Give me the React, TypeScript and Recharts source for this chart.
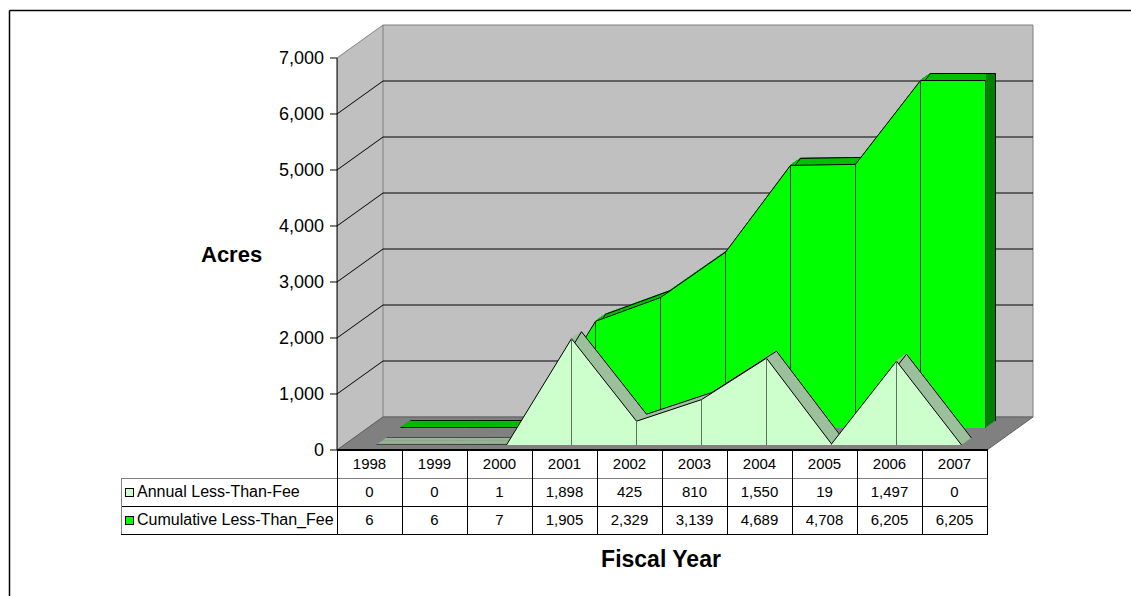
import React from 'react';
import {
  AreaChart,
  Area,
  LineChart,
  XAxis,
  YAxis,
  ReferenceLine,
  ReferenceArea,
} from 'recharts';

// ---------- data ----------
const years = ['1998', '1999', '2000', '2001', '2002', '2003', '2004', '2005', '2006', '2007'];
const annual = [0, 0, 1, 1898, 425, 810, 1550, 19, 1497, 0];
const cumulative = [6, 6, 7, 1905, 2329, 3139, 4689, 4708, 6205, 6205];
const yTicks = [0, 1000, 2000, 3000, 4000, 5000, 6000, 7000];
const seriesNames = ['Annual Less-Than-Fee', 'Cumulative Less-Than_Fee'];
const yTitle = 'Acres';
const xTitle = 'Fiscal Year';

const data = years.map((y, i) => ({ year: y, annual: annual[i], cumulative: cumulative[i] }));

// ---------- layout ----------
const W = 1131;
const H = 596;
const FONT = '"Liberation Sans", Arial, Helvetica, sans-serif';
const FRONT_LEFT = 337;
const FRONT_RIGHT = 987;
const PLOT_TOP = 58;
const PLOT_BOTTOM = 450;
const DEPTH_X = 46;
const DEPTH_Y = -33;
const COL_W = 65;
const ROW_H = 28;
const LABEL_LEFT = 121;
const Y_MAX = 7000;
const FIRST_CENTER = FRONT_LEFT + COL_W / 2;
const LAST_CENTER = FRONT_RIGHT - COL_W / 2;
const EX = 10;
const EY = -7;
const NCOPIES = 10;

const seriesMargin = {
  top: PLOT_TOP,
  bottom: H - PLOT_BOTTOM,
  left: FIRST_CENTER,
  right: W - LAST_CENTER,
};

const fmt = (v: number) => v.toLocaleString('en-US');

function Layer({ dx, dy, children }: { dx: number; dy: number; children: React.ReactNode }) {
  return (
    <div style={{ position: 'absolute', left: 0, top: 0, transform: `translate(${dx}px, ${dy}px)` }}>
      {children}
    </div>
  );
}

type SeriesProps = {
  dataKey: 'annual' | 'cumulative';
  fill: string;
  stroke: string;
  strokeWidth?: number;
  dividers?: 'all' | 'last' | 'none';
  dividerStroke?: string;
};

function SeriesChart({ dataKey, fill, stroke, strokeWidth = 1, dividers = 'none', dividerStroke = '#000' }: SeriesProps) {
  const divData =
    dividers === 'all' ? data : dividers === 'last' ? data.slice(data.length - 1) : [];
  return (
    <AreaChart width={W} height={H} data={data} margin={seriesMargin}>
      <XAxis dataKey="year" hide />
      <YAxis hide domain={[0, Y_MAX]} ticks={yTicks} allowDataOverflow />
      <Area
        dataKey={dataKey}
        type="linear"
        fill={fill}
        fillOpacity={fill === 'none' ? 0 : 1}
        stroke={stroke}
        strokeWidth={strokeWidth}
        dot={false}
        activeDot={false}
        isAnimationActive={false}
      />
      {divData.map((d) => (
        <ReferenceLine
          key={d.year}
          segment={[
            { x: d.year, y: 0 },
            { x: d.year, y: d[dataKey] },
          ]}
          stroke={dividerStroke}
          strokeWidth={1}
        />
      ))}
    </AreaChart>
  );
}

type ExtrudedProps = {
  dataKey: 'annual' | 'cumulative';
  shiftX: number;
  shiftY: number;
  faceFill: string;
  bandFill: string;
  sideFill?: string;
  dividerStroke: string;
};

function Extruded({ dataKey, shiftX, shiftY, faceFill, bandFill, sideFill, dividerStroke }: ExtrudedProps) {
  const out: React.ReactNode[] = [];
  const baseFill = sideFill || bandFill;
  for (let k = NCOPIES; k >= 1; k--) {
    out.push(
      <Layer key={`c${k}`} dx={shiftX + (EX * k) / NCOPIES} dy={shiftY + (EY * k) / NCOPIES}>
        <SeriesChart dataKey={dataKey} fill={baseFill} stroke={baseFill} strokeWidth={1.2} />
      </Layer>
    );
  }
  if (sideFill) {
    const clipW = LAST_CENTER + shiftX + 0.5;
    const inner: React.ReactNode[] = [];
    for (let k = NCOPIES; k >= 1; k--) {
      inner.push(
        <Layer key={`b${k}`} dx={shiftX + (EX * k) / NCOPIES} dy={shiftY + (EY * k) / NCOPIES}>
          <SeriesChart dataKey={dataKey} fill={bandFill} stroke={bandFill} strokeWidth={1.2} />
        </Layer>
      );
    }
    out.push(
      <div key="clip" style={{ position: 'absolute', left: 0, top: 0, width: clipW, height: H, overflow: 'hidden' }}>
        {inner}
      </div>
    );
  }
  out.push(
    <Layer key="outline" dx={shiftX + EX} dy={shiftY + EY}>
      <SeriesChart dataKey={dataKey} fill="none" stroke="#000" dividers="last" dividerStroke="#000" />
    </Layer>
  );
  out.push(
    <Layer key="face" dx={shiftX} dy={shiftY}>
      <SeriesChart dataKey={dataKey} fill={faceFill} stroke="#000" dividers="all" dividerStroke={dividerStroke} />
    </Layer>
  );
  return <>{out}</>;
}

function BackWall() {
  return (
    <Layer dx={0} dy={0}>
      <LineChart
        width={W}
        height={H}
        data={data}
        margin={{
          top: PLOT_TOP + DEPTH_Y,
          bottom: H - (PLOT_BOTTOM + DEPTH_Y),
          left: FRONT_LEFT + DEPTH_X,
          right: W - (FRONT_RIGHT + DEPTH_X),
        }}
      >
        <XAxis dataKey="year" hide />
        <YAxis hide domain={[0, Y_MAX]} ticks={yTicks} allowDataOverflow />
        <ReferenceArea y1={0} y2={Y_MAX} fill="#C0C0C0" fillOpacity={1} stroke="#808080" />
        {yTicks.slice(1, -1).map((t) => (
          <ReferenceLine key={t} y={t} stroke="#000" strokeWidth={1} />
        ))}
      </LineChart>
    </Layer>
  );
}

function SideWall() {
  const angle = (Math.atan(DEPTH_Y / DEPTH_X) * 180) / Math.PI;
  return (
    <div
      style={{
        position: 'absolute',
        left: FRONT_LEFT,
        top: 0,
        transformOrigin: '0 0',
        transform: `skewY(${angle}deg)`,
      }}
    >
      <LineChart width={DEPTH_X} height={H} data={data} margin={{ top: PLOT_TOP, bottom: H - PLOT_BOTTOM, left: 0, right: 0 }}>
        <XAxis dataKey="year" hide />
        <YAxis hide domain={[0, Y_MAX]} ticks={yTicks} allowDataOverflow />
        <ReferenceArea y1={0} y2={Y_MAX} fill="#C0C0C0" fillOpacity={1} stroke="#808080" />
        {yTicks.slice(1, -1).map((t) => (
          <ReferenceLine key={t} y={t} stroke="#000" strokeWidth={1} />
        ))}
      </LineChart>
    </div>
  );
}

function FrontAxis() {
  const axisW = 90;
  return (
    <Layer dx={0} dy={0}>
      <LineChart
        width={W}
        height={H}
        data={data}
        margin={{ top: PLOT_TOP, bottom: H - PLOT_BOTTOM, left: FRONT_LEFT - axisW, right: W - FRONT_RIGHT }}
      >
        <XAxis dataKey="year" hide />
        <YAxis
          width={axisW}
          domain={[0, Y_MAX]}
          ticks={yTicks}
          interval={0}
          allowDataOverflow
          tickFormatter={(v: number) => fmt(v)}
          tick={{ fontSize: 18, fill: '#000', fontFamily: FONT }}
          axisLine={{ stroke: '#000', strokeWidth: 1 }}
          tickLine={{ stroke: '#000' }}
          tickSize={7}
          tickMargin={6}
        />
      </LineChart>
    </Layer>
  );
}

function DataTable() {
  const cells: React.ReactNode[] = [];
  const rows = [
    { label: null as string | null, color: '', values: years },
    { label: seriesNames[0], color: '#CCFFCC', values: annual.map(fmt) },
    { label: seriesNames[1], color: '#00FF00', values: cumulative.map(fmt) },
  ];
  rows.forEach((r, ri) => {
    const top = PLOT_BOTTOM + ri * ROW_H;
    r.values.forEach((v, ci) => {
      cells.push(
        <div
          key={`${ri}-${ci}`}
          style={{
            position: 'absolute',
            left: FRONT_LEFT + ci * COL_W,
            top,
            width: COL_W,
            height: ROW_H,
            lineHeight: `${ROW_H}px`,
            textAlign: 'center',
            fontFamily: FONT,
            fontSize: 15,
            color: '#000',
          }}
        >
          {v}
        </div>
      );
    });
    if (r.label) {
      cells.push(
        <div
          key={`l${ri}`}
          style={{
            position: 'absolute',
            left: LABEL_LEFT + 4,
            top,
            height: ROW_H,
            lineHeight: `${ROW_H}px`,
            fontFamily: FONT,
            fontSize: 16,
            color: '#000',
            whiteSpace: 'nowrap',
            display: 'flex',
            alignItems: 'center',
          }}
        >
          <span
            style={{
              display: 'inline-block',
              width: 7,
              height: 7,
              background: r.color,
              border: '1px solid #000',
              marginRight: 3,
            }}
          />
          {r.label}
        </div>
      );
    }
  });
  const lines: React.ReactNode[] = [];
  lines.push(
    <div key="h0" style={{ position: 'absolute', left: FRONT_LEFT, top: PLOT_BOTTOM - 1, width: FRONT_RIGHT - FRONT_LEFT + 1, height: 2, background: '#000' }} />
  );
  [1, 2, 3].forEach((i) => {
    lines.push(
      <div
        key={`h${i}`}
        style={{
          position: 'absolute',
          left: LABEL_LEFT,
          top: PLOT_BOTTOM + i * ROW_H,
          width: FRONT_RIGHT - LABEL_LEFT + 1,
          height: 1,
          background: i === 1 ? '#808080' : '#000',
        }}
      />
    );
  });
  for (let i = 0; i <= years.length; i++) {
    lines.push(
      <div
        key={`v${i}`}
        style={{ position: 'absolute', left: FRONT_LEFT + i * COL_W, top: PLOT_BOTTOM, width: 1, height: ROW_H * 3, background: '#000' }}
      />
    );
  }
  lines.push(
    <div key="vl" style={{ position: 'absolute', left: LABEL_LEFT, top: PLOT_BOTTOM + ROW_H, width: 1, height: ROW_H * 2, background: '#808080' }} />
  );
  return (
    <>
      {cells}
      {lines}
    </>
  );
}

export default function App() {
  return (
    <div style={{ position: 'absolute', left: 0, top: 0, width: W, height: H, overflow: 'hidden', background: '#fff' }}>
      <svg width={W} height={H} style={{ position: 'absolute', left: 0, top: 0 }}>
        <line x1={9.5} y1={10.5} x2={W} y2={10.5} stroke="#000" strokeWidth={1.5} />
        <line x1={9.5} y1={10.5} x2={9.5} y2={H} stroke="#000" strokeWidth={1.5} />
      </svg>
      <BackWall />
      <SideWall />
      <svg width={W} height={H} style={{ position: 'absolute', left: 0, top: 0 }}>
        <polygon
          points={`${FRONT_LEFT},${PLOT_BOTTOM} ${FRONT_LEFT + DEPTH_X},${PLOT_BOTTOM + DEPTH_Y} ${FRONT_RIGHT + DEPTH_X},${PLOT_BOTTOM + DEPTH_Y} ${FRONT_RIGHT},${PLOT_BOTTOM}`}
          fill="#808080"
          stroke="#606060"
          strokeWidth={1}
        />
      </svg>
      <Extruded
        dataKey="cumulative"
        shiftX={31}
        shiftY={-22}
        faceFill="#00FF00"
        bandFill="#00C000"
        sideFill="#008000"
        dividerStroke="#1a3a1a"
      />
      <Extruded
        dataKey="annual"
        shiftX={7}
        shiftY={-5}
        faceFill="#CCFFCC"
        bandFill="#9CC09C"
        dividerStroke="#5f735f"
      />
      <FrontAxis />
      <DataTable />
      <svg width={W} height={H} style={{ position: 'absolute', left: 0, top: 0 }}>
        <text x={201} y={262} fontFamily={FONT} fontSize={22} fontWeight="bold" fill="#000">
          {yTitle}
        </text>
        <text x={661} y={567} fontFamily={FONT} fontSize={23} fontWeight="bold" fill="#000" textAnchor="middle">
          {xTitle}
        </text>
      </svg>
    </div>
  );
}
